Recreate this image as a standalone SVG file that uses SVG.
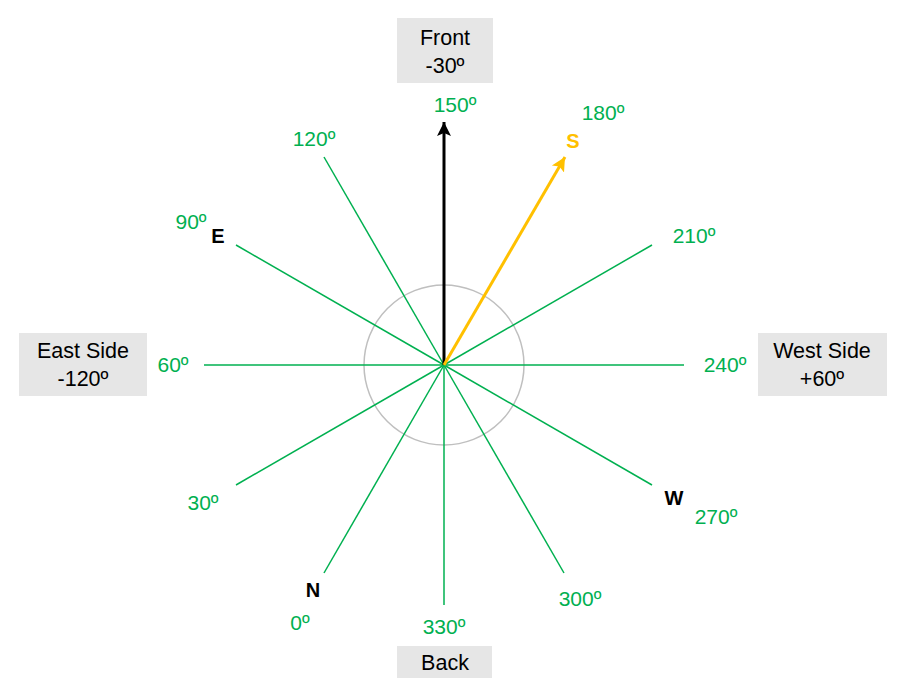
<svg xmlns="http://www.w3.org/2000/svg" width="900" height="696" viewBox="0 0 900 696">
<style>
.g{font-family:"Liberation Sans",Arial,sans-serif;font-size:21px;fill:#00B050;text-anchor:middle}
.b{font-family:"Liberation Sans",Arial,sans-serif;font-size:21.5px;fill:#000;text-anchor:middle}
.d{font-family:"Liberation Sans",Arial,sans-serif;font-size:20px;font-weight:bold;fill:#000;text-anchor:middle}
.box{fill:#E6E6E6}
.ray{stroke:#00B050;stroke-width:1.5;fill:none}
</style>
<defs>
<marker id="ab" markerUnits="userSpaceOnUse" markerWidth="14" markerHeight="16" viewBox="0 0 14 16" refX="14" refY="8" orient="auto">
<path d="M0,1 L14,8 L0,15 L3,8 Z" fill="#000"/>
</marker>
<marker id="ao" markerUnits="userSpaceOnUse" markerWidth="14" markerHeight="16" viewBox="0 0 14 16" refX="14" refY="8" orient="auto">
<path d="M0,1 L14,8 L0,15 L3,8 Z" fill="#FFC000"/>
</marker>
</defs>
<circle cx="444" cy="365" r="80" fill="none" stroke="#BFBFBF" stroke-width="1.5"/>
<g id="connectors">
<line class="ray" x1="444" y1="365" x2="324" y2="573"/>
<line class="ray" x1="444" y1="365" x2="236" y2="485"/>
<line class="ray" x1="444" y1="365" x2="204" y2="365"/>
<line class="ray" x1="444" y1="365" x2="236" y2="245"/>
<line class="ray" x1="444" y1="365" x2="324" y2="157"/>
<line class="ray" x1="444" y1="365" x2="652" y2="245"/>
<line class="ray" x1="444" y1="365" x2="684" y2="365"/>
<line class="ray" x1="444" y1="365" x2="652" y2="485"/>
<line class="ray" x1="444" y1="365" x2="564" y2="573"/>
<line class="ray" x1="444" y1="365" x2="444" y2="605"/>
<line x1="444" y1="365" x2="444" y2="122" stroke="#000" stroke-width="3" marker-end="url(#ab)"/>
<line x1="444" y1="365" x2="565" y2="157" stroke="#FFC000" stroke-width="3" marker-end="url(#ao)"/>
</g>
<g id="front"><rect class="box" x="397" y="18" width="96" height="65"/><text class="b" x="445" y="45">Front</text><text class="b" x="445" y="73">-30º</text></g>
<g id="east-side"><rect class="box" x="19" y="333" width="128" height="63"/><text class="b" x="83" y="358">East Side</text><text class="b" x="83" y="386">-120º</text></g>
<g id="west-side"><rect class="box" x="758" y="333" width="129" height="63"/><text class="b" x="822" y="358">West Side</text><text class="b" x="822" y="386">+60º</text></g>
<g id="back"><rect class="box" x="397" y="646" width="95" height="32"/><text class="b" x="445" y="670">Back</text></g>
<g id="labels">
<text class="g" x="455" y="112">150º</text>
<text class="g" x="603" y="120">180º</text>
<text class="g" x="314" y="146">120º</text>
<text class="g" x="191" y="229">90º</text>
<text class="g" x="694" y="243">210º</text>
<text class="g" x="173" y="372">60º</text>
<text class="g" x="725" y="372">240º</text>
<text class="g" x="203" y="510">30º</text>
<text class="g" x="716" y="524">270º</text>
<text class="g" x="300" y="630">0º</text>
<text class="g" x="444" y="634">330º</text>
<text class="g" x="580" y="606">300º</text>
</g>
<g id="directions">
<text class="d" x="573" y="148" style="fill:#FFC000">S</text>
<text class="d" x="218" y="243">E</text>
<text class="d" x="674" y="505">W</text>
<text class="d" x="313" y="597">N</text>
</g>
</svg>
